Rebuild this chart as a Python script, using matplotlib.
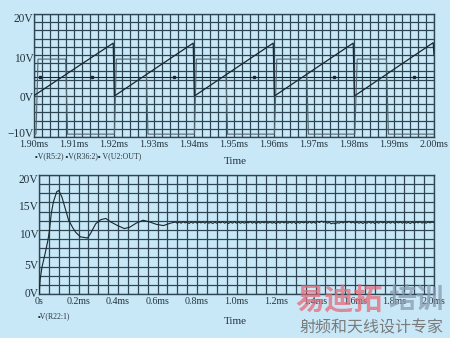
import matplotlib
matplotlib.use("Agg")
import matplotlib.pyplot as plt
from matplotlib.transforms import ScaledTranslation

# ---------------- data ----------------
# top plot (time in ms, volts)
saw_t = [1.9000, 1.9198, 1.9201, 1.9398, 1.9401, 1.9598, 1.9601, 1.9798, 1.9801, 1.9998, 2.0000]
saw_v = [0.1, 12.9, 0.0, 12.9, 0.0, 12.9, 0.0, 12.9, 0.0, 13.0, 10.0]

sq_t = [1.9000, 1.9005, 1.9010, 1.9079, 1.9084, 1.9201, 1.9206, 1.9280, 1.9285,
        1.9401, 1.9406, 1.9479, 1.9484, 1.9601, 1.9607, 1.9681, 1.9686,
        1.9802, 1.9808, 1.9881, 1.9886, 2.0000]
sq_v = [-9.3, -9.3, 9.0, 9.0, -9.3, -9.3, 9.0, 9.0, -9.3,
        -9.3, 9.0, 9.0, -9.3, -9.3, 9.0, 9.0, -9.3,
        -9.3, 9.0, 9.0, -9.3, -9.3]

ref_t = [1.9000, 2.0000]
ref_v = [4.6, 4.6]
ref_mark_t = [1.9015, 1.9145, 1.9350, 1.9550, 1.9750, 1.9950]
ref_mark_v = [4.6, 4.6, 4.6, 4.6, 4.6, 4.6]

top_xticks = [1.90, 1.91, 1.92, 1.93, 1.94, 1.95, 1.96, 1.97, 1.98, 1.99, 2.00]
top_xlabels = ["1.90ms", "1.91ms", "1.92ms", "1.93ms", "1.94ms", "1.95ms",
               "1.96ms", "1.97ms", "1.98ms", "1.99ms", "2.00ms"]
top_yticks = [-10, 0, 10, 20]
top_ylabels = ["\u221210V", "0V", "10V", "20V"]

# bottom plot
r22_t = [0.000, 0.006, 0.015, 0.031, 0.045, 0.053, 0.062, 0.073, 0.090, 0.100,
         0.116, 0.128, 0.150, 0.170, 0.185, 0.210, 0.230, 0.245, 0.260, 0.287,
         0.313, 0.338, 0.364, 0.398, 0.432, 0.458, 0.492, 0.527, 0.561, 0.595,
         0.630, 0.665, 0.690]
r22_v = [-0.2, 2.5, 4.5, 6.8, 9.0, 10.7, 13.5, 15.5, 17.2, 17.4,
         16.3, 14.9, 12.4, 11.2, 10.4, 9.6, 9.5, 9.4, 10.1, 11.8,
         12.5, 12.7, 12.1, 11.5, 11.0, 11.2, 11.9, 12.4, 12.1, 11.7,
         11.5, 11.9, 12.1]
# settled part sampled every 0.01 ms from 0.70 ms to 2.00 ms
settle_t0 = 0.70
settle_dt = 0.01
settle_v = [
    11.9, 12.1, 11.9, 12.15, 11.95, 12.1, 11.85, 12.1, 11.9, 12.15,
    11.9, 12.1, 11.95, 12.1, 11.9, 12.15, 11.9, 12.05, 11.85, 12.1,
    11.9, 12.1, 11.95, 12.15, 11.9, 12.1, 11.85, 12.1, 11.9, 12.15,
    11.9, 12.1, 11.9, 12.05, 11.9, 12.1, 11.95, 12.15, 11.9, 12.1,
    11.85, 12.1, 11.9, 12.1, 11.95, 12.15, 11.9, 12.1, 11.9, 12.05,
    11.85, 12.1, 11.9, 12.15, 11.95, 12.1, 11.9, 12.1, 11.9, 12.15,
    11.85, 12.1, 11.9, 12.1, 11.95, 12.1, 11.9, 12.15, 11.9, 12.1,
    11.9, 12.2, 12.0, 12.25, 12.05, 12.2, 11.9, 12.05, 11.8, 11.95,
    11.8, 12.0, 11.9, 12.1, 11.95, 12.15, 12.0, 12.2, 11.95, 12.1,
    11.9, 12.1, 11.9, 12.05, 11.85, 12.1, 11.9, 12.15, 11.9, 12.1,
    11.85, 12.1, 11.9, 12.15, 11.95, 12.1, 11.9, 12.1, 11.9, 12.15,
    11.9, 12.1, 11.95, 12.1, 11.9, 12.15, 11.9, 12.05, 11.85, 12.1,
    11.9, 12.1, 11.95, 12.15, 11.9, 12.1, 11.9, 12.1, 11.95, 12.1,
    12.0]

bot_xticks = [0.0, 0.2, 0.4, 0.6, 0.8, 1.0, 1.2, 1.4, 1.6, 1.8, 2.0]
bot_xlabels = ["0s", "0.2ms", "0.4ms", "0.6ms", "0.8ms", "1.0ms",
               "1.2ms", "1.4ms", "1.6ms", "1.8ms", "2.0ms"]
bot_yticks = [0, 5, 10, 15, 20]
bot_ylabels = ["0V", "5V", "10V", "15V", "20V"]

# ---------------- style ----------------
BG = "#c8e8f8"
GRID = "#2f4652"
TRACE = "#1a262c"
TRACE2 = "#56666e"
TXT = "#26343c"
SERIF = ["Liberation Serif", "DejaVu Serif"]

fig = plt.figure(figsize=(4.5, 3.38), dpi=100, facecolor=BG)


def style_axes(ax, xlim, ylim, xgrid, ygrid, xticks, xlabels, yticks, ylabels, yoffs):
    ax.set_facecolor(BG)
    ax.set_xlim(*xlim)
    ax.set_ylim(*ylim)
    x = xlim[0]
    while x <= xlim[1] + 1e-9:
        ax.axvline(x, color=GRID, lw=0.9, zorder=1)
        x += xgrid
    y = ylim[0]
    while y <= ylim[1] + 1e-9:
        ax.axhline(y, color=GRID, lw=0.9, zorder=1)
        y += ygrid
    for s in ax.spines.values():
        s.set_color(GRID)
        s.set_linewidth(1.0)
    ax.set_xticks(xticks)
    ax.set_xticklabels(xlabels, family=SERIF, fontsize=7.2, color=TXT)
    ax.set_yticks(yticks)
    ax.set_yticklabels(ylabels, family=SERIF, fontsize=8.3, color=TXT)
    ax.tick_params(axis="both", length=0)
    ax.tick_params(axis="x", pad=2.5)
    ax.tick_params(axis="y", pad=0.5)
    for lab, dy in zip(ax.get_yticklabels(), yoffs):
        off = ScaledTranslation(0, -dy / 100, fig.dpi_scale_trans)
        lab.set_transform(lab.get_transform() + off)


# top axes
ax1 = fig.add_axes([34 / 450, 1 - 137 / 338, 400 / 450, 123 / 338])
style_axes(ax1, (1.90, 2.00), (-10, 20), 0.002, 2.0,
           top_xticks, top_xlabels, top_yticks, top_ylabels, [-4.3, 0.7, 2.3, 3.3])
ax1.plot(ref_t, ref_v, color=TRACE, lw=0.8, zorder=3)
ax1.plot(ref_mark_t, ref_mark_v, ls="none", marker="s", ms=1.8, color=TRACE, zorder=4)
ax1.plot(sq_t, sq_v, color=TRACE2, lw=0.8, zorder=3)
ax1.plot(saw_t, saw_v, color=TRACE, lw=0.9, zorder=4)

# bottom axes
ax2 = fig.add_axes([39 / 450, 1 - 294 / 338, 395 / 450, 119 / 338])
style_axes(ax2, (0.0, 2.0), (0, 20), 0.05, 20 / 13,
           bot_xticks, bot_xlabels, bot_yticks, bot_ylabels, [-1.3, 0.0, -1.0, 0.3, 3.3])
full_t = list(r22_t) + [settle_t0 + i * settle_dt for i in range(len(settle_v))]
full_v = list(r22_v) + list(settle_v)
ax2.plot(full_t, full_v, color=TRACE, lw=0.8, zorder=4)

# axis titles and legends
fig.text(235 / 450, 1 - 161 / 338, "Time", ha="center", va="center",
         family=SERIF, fontsize=8, color=TXT)
fig.text(235 / 450, 1 - 321 / 338, "Time", ha="center", va="center",
         family=SERIF, fontsize=8, color=TXT)
fig.text(35 / 450, 1 - 156 / 338, "\u25aaV(R5:2) \u25aaV(R36:2)\u25aa V(U2:OUT)",
         ha="left", va="center", family=["Liberation Serif", "DejaVu Sans"],
         fontsize=5.6, color=TXT)
fig.text(38 / 450, 1 - 316 / 338, "\u25aaV(R22:1)",
         ha="left", va="center", family=["Liberation Serif", "DejaVu Sans"],
         fontsize=5.6, color=TXT)

# watermark
fig.text(295 / 450, 1 - 300 / 338, "易迪拓", ha="left", va="center",
         family=["Noto Sans CJK SC"], fontsize=21, fontweight="bold",
         color="#e56a78", alpha=0.75, zorder=10)
fig.text(388 / 450, 1 - 300 / 338, "培训", ha="left", va="center",
         family=["Noto Sans CJK SC"], fontsize=20, fontweight="bold",
         color="#8a9aae", alpha=0.75, zorder=10)
fig.text(371 / 450, 1 - 328 / 338, "射频和天线设计专家", ha="center", va="center",
         family=["Noto Sans CJK SC"], fontsize=11.5, color="#7b7b7b", zorder=10)

fig.savefig("out.png", dpi=100, facecolor=BG)
